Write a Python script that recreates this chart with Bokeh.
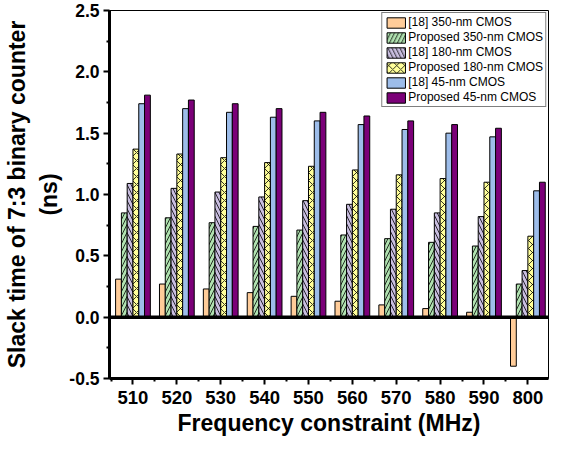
from bokeh.plotting import figure
from bokeh.models import Range1d, FixedTicker, PrintfTickFormatter, Span
from bokeh.embed import file_html
from bokeh.resources import INLINE

freqs = ["510", "520", "530", "540", "550", "560", "570", "580", "590", "800"]
ref350 = [0.31, 0.27, 0.23, 0.20, 0.17, 0.13, 0.10, 0.07, 0.04, -0.40]
prop350 = [0.85, 0.81, 0.77, 0.74, 0.71, 0.67, 0.64, 0.61, 0.58, 0.27]
ref180 = [1.09, 1.05, 1.02, 0.98, 0.95, 0.92, 0.88, 0.85, 0.82, 0.38]
prop180 = [1.37, 1.33, 1.30, 1.26, 1.23, 1.20, 1.16, 1.13, 1.10, 0.66]
ref45 = [1.74, 1.70, 1.67, 1.63, 1.60, 1.57, 1.53, 1.50, 1.47, 1.03]
prop45 = [1.81, 1.77, 1.74, 1.70, 1.67, 1.64, 1.60, 1.57, 1.54, 1.10]

series = [
    ("[18] 350-nm CMOS", ref350, "#FFCC99", None),
    ("Proposed 350-nm CMOS", prop350, "#B0E2B0", "/"),
    ("[18] 180-nm CMOS", ref180, "#C9BEE0", "\\"),
    ("Proposed 180-nm CMOS", prop180, "#FFFF99", "x"),
    ("[18] 45-nm CMOS", ref45, "#9DBDEA", None),
    ("Proposed 45-nm CMOS", prop45, "#7B0078", None),
]

FONT = "Liberation Sans"

p = figure(width=550, height=438, output_backend="svg", toolbar_location=None,
           x_range=Range1d(-0.535, 9.47), y_range=Range1d(-0.5, 2.5),
           min_border_left=107, min_border_right=2, min_border_top=10, min_border_bottom=0)

bw = 0.132
idx = list(range(len(freqs)))
for k, (name, vals, color, hatch) in enumerate(series):
    xs = [i + (k - 2.5) * bw for i in idx]
    kw = dict(x=xs, top=vals, bottom=0, width=bw, fill_color=color,
              line_color="black", line_width=1, legend_label=name)
    if hatch:
        kw.update(hatch_pattern=hatch, hatch_color="black", hatch_scale=8, hatch_weight=0.8)
    p.vbar(**kw)

p.add_layout(Span(location=0, dimension="width", line_color="black", line_width=3.5))

p.xgrid.visible = False
p.ygrid.visible = False
p.outline_line_color = "black"
p.outline_line_width = 1

p.xaxis.ticker = FixedTicker(ticks=idx, minor_ticks=[i + 0.5 for i in range(-1, 10)])
p.xaxis.major_label_overrides = {i: f for i, f in enumerate(freqs)}
p.yaxis.ticker = FixedTicker(ticks=[-0.5, 0.0, 0.5, 1.0, 1.5, 2.0, 2.5],
                             minor_ticks=[-0.25 + 0.5 * j for j in range(6)])
p.yaxis.formatter = PrintfTickFormatter(format="%.1f")

for ax in (p.xaxis[0], p.yaxis[0]):
    ax.axis_line_width = 3
    ax.axis_line_color = "black"
    ax.major_tick_in = 0
    ax.major_tick_out = 6
    ax.minor_tick_in = 0
    ax.minor_tick_out = 3
    ax.major_tick_line_width = 2
    ax.minor_tick_line_width = 2
    ax.major_label_text_font = FONT
    ax.major_label_text_font_style = "bold"
    ax.major_label_text_color = "black"
    ax.axis_label_text_font = FONT
    ax.axis_label_text_font_style = "bold"
    ax.axis_label_text_color = "black"
    ax.axis_label_text_font_size = "23px"

p.xaxis.major_label_text_font_size = "18.5px"
p.yaxis.major_label_text_font_size = "17.5px"
p.xaxis.major_label_standoff = 6
p.yaxis.major_label_standoff = 4
p.xaxis.axis_label = "Frequency constraint (MHz)"
p.yaxis.axis_label = "Slack time of 7:3 binary counter\n(ns)"
p.xaxis.axis_label_standoff = 3
p.yaxis.axis_label_standoff = 4
p.yaxis.axis_label_text_line_height = 1.25

lg = p.legend[0]
lg.location = "top_right"
lg.margin = 2
lg.padding = 2
lg.spacing = 1
lg.glyph_width = 23
lg.glyph_height = 13
lg.label_height = 13
lg.label_standoff = 1
lg.label_text_font = FONT
lg.label_text_font_size = "12px"
lg.label_text_color = "black"
lg.border_line_color = "black"
lg.border_line_width = 1
lg.background_fill_alpha = 1

open("out.html", "w").write(file_html(p, INLINE))
